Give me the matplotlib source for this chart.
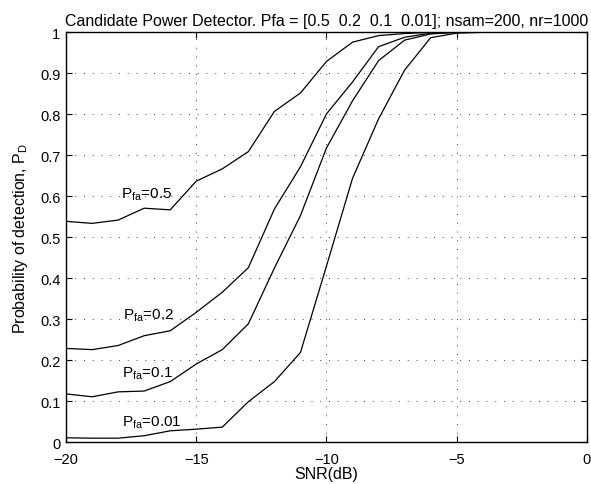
import numpy as np
import matplotlib
matplotlib.use("Agg")
import matplotlib.pyplot as plt

# SNR grid (dB) and detection probabilities
snr_db = [-20, -19, -18, -17, -16, -15, -14, -13, -12, -11, -10,
          -9, -8, -7, -6, -5, -4, -3, -2, -1, 0]
pd_05 = [0.539, 0.534, 0.542, 0.571, 0.567, 0.637, 0.667, 0.709, 0.807, 0.852, 0.929,
         0.976, 0.992, 0.997, 1.0, 1.0, 1.0, 1.0, 1.0, 1.0, 1.0]
pd_02 = [0.229, 0.226, 0.236, 0.260, 0.272, 0.317, 0.366, 0.426, 0.569, 0.672, 0.801,
         0.879, 0.965, 0.988, 0.998, 1.0, 1.0, 1.0, 1.0, 1.0, 1.0]
pd_01 = [0.118, 0.111, 0.123, 0.125, 0.148, 0.191, 0.226, 0.289, 0.425, 0.553, 0.718,
         0.833, 0.931, 0.981, 0.996, 1.0, 1.0, 1.0, 1.0, 1.0, 1.0]
pd_001 = [0.011, 0.010, 0.010, 0.016, 0.028, 0.032, 0.037, 0.099, 0.148, 0.219, 0.430,
          0.644, 0.789, 0.908, 0.987, 0.998, 1.0, 1.0, 1.0, 1.0, 1.0]

curves = [pd_05, pd_02, pd_01, pd_001]
labels = ["0.5", "0.2", "0.1", "0.01"]
label_pos = [(-17.9, 0.596), (-17.83, 0.301), (-17.85, 0.160), (-17.85, 0.040)]

plt.rcParams["font.family"] = ["Liberation Sans", "DejaVu Sans"]
plt.rcParams["mathtext.fontset"] = "custom"
plt.rcParams["mathtext.rm"] = "Liberation Sans"
plt.rcParams["mathtext.it"] = "Liberation Sans"

fig = plt.figure(figsize=(5.91, 4.85), dpi=100)
ax = fig.add_axes([0.1117, 0.086, 0.8815, 0.8453])

for vals in curves:
    ax.plot(snr_db, vals, color="k", linewidth=0.9)

for lab, (tx, ty) in zip(labels, label_pos):
    ax.text(tx, ty, r"P$_{\mathrm{fa}}$=" + lab, fontsize=11, va="baseline", ha="left")

ax.set_xlim(-20, 0)
ax.set_ylim(0, 1)
ax.set_xticks([-20, -15, -10, -5, 0])
ax.set_yticks(np.arange(0, 1.01, 0.1))
ax.set_yticklabels(["0", "0.1", "0.2", "0.3", "0.4", "0.5", "0.6", "0.7", "0.8", "0.9", "1"])
ax.tick_params(direction="in", length=4.3, top=True, right=True, labelsize=10.5, width=0.8)
ax.tick_params(axis="x", pad=7)
ax.tick_params(axis="y", pad=4)
ax.grid(True, linestyle=(0, (1, 8)), color="#444444", linewidth=0.7)
for sp in ax.spines.values():
    sp.set_linewidth(1.0)

ax.set_xlabel("SNR(dB)", fontsize=11.5, labelpad=0)
ax.set_ylabel(r"Probability of detection, P$_{\mathrm{D}}$", fontsize=11.5, labelpad=7)
ax.set_title("Candidate Power Detector. Pfa = [0.5  0.2  0.1  0.01]; nsam=200, nr=1000",
             fontsize=11.5, pad=5)

fig.savefig("out.png", dpi=100)
